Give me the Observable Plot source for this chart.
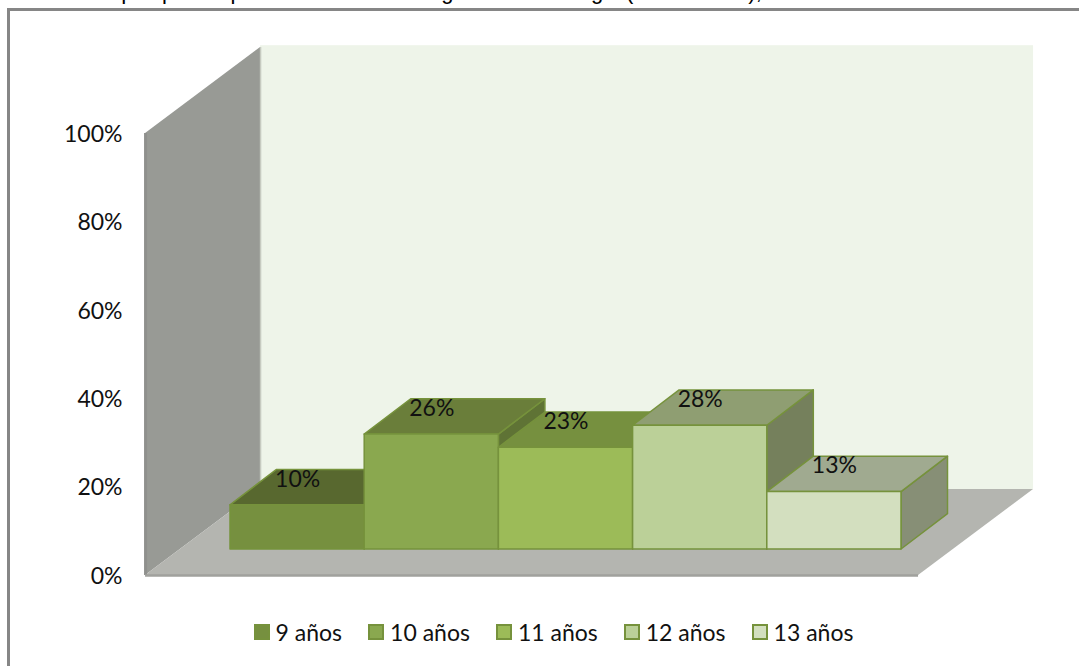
<!DOCTYPE html>
<html lang="es">
<head>
<meta charset="utf-8">
<script src="https://cdn.jsdelivr.net/npm/d3@7"></script>
<script src="https://cdn.jsdelivr.net/npm/@observablehq/plot@0.6"></script>
<style>
  html, body { margin: 0; padding: 0; background: #fff; }
  #page { position: relative; width: 1079px; height: 666px; overflow: hidden; font-family: Lato, sans-serif; color: #111; }
  #heading span { position: absolute; top: -20px; white-space: nowrap; letter-spacing: 1.4px;
                  font: 22px/24px "Liberation Sans", sans-serif; color: #000; }
  #frame { position: absolute; left: 7px; top: 8px; width: 1200px; height: 800px; border: 3px solid #868686; box-sizing: border-box; }
  #chart { position: absolute; left: 0; top: 0; }
  #legend { position: absolute; left: 0; top: 620px; width: 1107px; display: flex; justify-content: center; gap: 26px; font-size: 23px; line-height: 24px; }
  .item { display: flex; align-items: center; gap: 6px; }
  .swatch { width: 12px; height: 12px; border: 2px solid #76923c; }
</style>
</head>
<body>
<div id="page">
  <div id="heading">
    <span style="left:114px">que</span>
    <span style="left:162px">participaron en la</span>
    <span style="left:369px">investigación</span>
    <span style="left:555px">rango</span>
    <span style="left:626px;letter-spacing:0">(9 a 13 años),</span>
  </div>
  <div id="frame"></div>
  <div id="chart"></div>
  <div id="legend"></div>
</div>
<script>
// Share of pupils by age, as labelled on the columns.
const ages = ["9 años", "10 años", "11 años", "12 años", "13 años"];
const shares = [10, 26, 23, 28, 13];
const axisTicks = [0, 20, 40, 60, 80, 100];

// Face colours of each column.
const frontColors = ["#76903f", "#8aa84f", "#9cbb58", "#bbd098", "#d3dfbf"];
const topColors = ["#58682f", "#6a7e3a", "#76903f", "#8f9e72", "#a0aa90"];
const sideColors = ["#4f5e2a", "#5f7335", "#67803a", "#75805c", "#878f76"];
const edge = "#76923c";

// Oblique projection, in scale units: columns per depth step and percent per depth step.
const roomDepthX = 0.857, roomDepthY = 19.46;
const barDepthX = 0.3465, barDepthY = 8;
const floorLeft = -0.633, floorRight = 5.127;
const barBase = 5.88;
const wallTop = 100;

// Room: side wall, back wall, floor.
const room = [
  Plot.areaY([
    {x: floorLeft, y1: 0, y2: wallTop},
    {x: floorLeft + roomDepthX, y1: roomDepthY, y2: wallTop + roomDepthY}
  ], {x: "x", y1: "y1", y2: "y2", fill: "#989a95"}),
  Plot.rect([{}], {
    x1: () => floorLeft + roomDepthX, x2: () => floorRight + roomDepthX,
    y1: () => roomDepthY, y2: () => wallTop + roomDepthY + 0.4, fill: "#eef4e9"
  }),
  Plot.areaX([
    {x1: floorLeft, x2: floorRight, y: 0},
    {x1: floorLeft + roomDepthX, x2: floorRight + roomDepthX, y: roomDepthY}
  ], {x1: "x1", x2: "x2", y: "y", fill: "#b4b5b0"}),
  Plot.ruleX([floorLeft], {y1: 0, y2: wallTop, stroke: "#8f908d", strokeWidth: 3}),
  Plot.ruleY([0], {x1: floorLeft, x2: floorRight, stroke: "#a0a19d", strokeWidth: 2.5}),
  Plot.ruleX([floorLeft + roomDepthX], {y1: roomDepthY, y2: wallTop + roomDepthY, stroke: "#c6cac0", strokeWidth: 1.5})
];

// Columns are painted left to right: side, top, then front face.
const bars = shares.flatMap((value, i) => {
  const top = barBase + value;
  const faceStyle = {stroke: edge, strokeWidth: 1.5, strokeLinejoin: "round"};
  return [
    Plot.areaY([
      {x: i + 1, y1: barBase, y2: top},
      {x: i + 1 + barDepthX, y1: barBase + barDepthY, y2: top + barDepthY}
    ], {x: "x", y1: "y1", y2: "y2", fill: sideColors[i], ...faceStyle}),
    Plot.areaX([
      {x1: i, x2: i + 1, y: top},
      {x1: i + barDepthX, x2: i + 1 + barDepthX, y: top + barDepthY}
    ], {x1: "x1", x2: "x2", y: "y", fill: topColors[i], ...faceStyle}),
    Plot.rect([{}], {
      x1: () => i, x2: () => i + 1, y1: () => barBase, y2: () => top,
      fill: frontColors[i], ...faceStyle
    })
  ];
});

const labels = Plot.text(shares, {
  x: (d, i) => i + 0.5,
  y: (d) => barBase * 2 + d,
  text: (d) => `${d}%`,
  fontSize: 23,
  fill: "#111"
});

const chart = Plot.plot({
  width: 1079,
  height: 612,
  marginLeft: 130,
  marginRight: 0,
  marginTop: 0,
  marginBottom: 0,
  style: {background: "transparent", fontFamily: "Lato, sans-serif"},
  x: {domain: [0, 5], range: [230, 901], axis: null},
  y: {domain: [0, 100], range: [575, 133], axis: null},
  marks: [
    ...room,
    ...bars,
    labels,
    Plot.axisY(axisTicks, {
      anchor: "left",
      tickSize: 0,
      tickPadding: 8,
      tickFormat: (d) => `${d}%`,
      fontSize: 23,
      dy: 1,
      fill: "#111",
      label: null
    })
  ]
});
document.getElementById("chart").append(chart);

// Legend row under the plot.
const legend = d3.select("#legend");
ages.forEach((age, i) => {
  const item = legend.append("div").attr("class", "item");
  item.append("span").attr("class", "swatch").style("background", frontColors[i]);
  item.append("span").text(age);
});
</script>
</body>
</html>
